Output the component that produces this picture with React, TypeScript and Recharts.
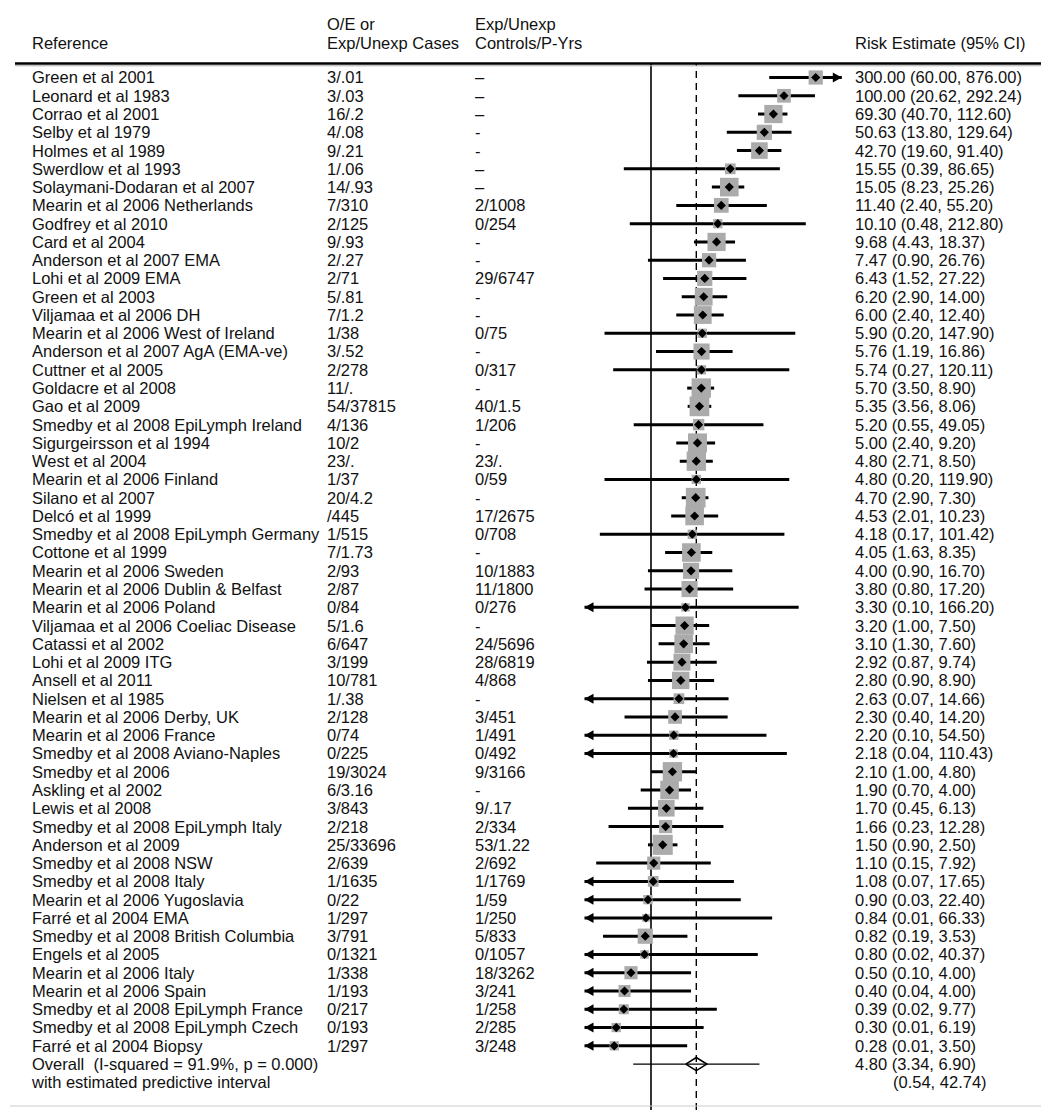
import React from 'react';
import { ComposedChart, XAxis, YAxis, Scatter, ErrorBar, ReferenceLine } from 'recharts';

// Study-level inputs of the meta-analysis, one entry per row (top to bottom)
const studies = [
  'Green et al 2001', 'Leonard et al 1983', 'Corrao et al 2001', 'Selby et al 1979', 'Holmes et al 1989',
  'Swerdlow et al 1993', 'Solaymani-Dodaran et al 2007', 'Mearin et al 2006 Netherlands', 'Godfrey et al 2010',
  'Card et al 2004', 'Anderson et al 2007 EMA', 'Lohi et al 2009 EMA', 'Green et al 2003', 'Viljamaa et al 2006 DH',
  'Mearin et al 2006 West of Ireland', 'Anderson et al 2007 AgA (EMA-ve)', 'Cuttner et al 2005', 'Goldacre et al 2008',
  'Gao et al 2009', 'Smedby et al 2008 EpiLymph Ireland', 'Sigurgeirsson et al 1994', 'West et al 2004',
  'Mearin et al 2006 Finland', 'Silano et al 2007', 'Delcó et al 1999', 'Smedby et al 2008 EpiLymph Germany',
  'Cottone et al 1999', 'Mearin et al 2006 Sweden', 'Mearin et al 2006 Dublin & Belfast', 'Mearin et al 2006 Poland',
  'Viljamaa et al 2006 Coeliac Disease', 'Catassi et al 2002', 'Lohi et al 2009 ITG', 'Ansell et al 2011',
  'Nielsen et al 1985', 'Mearin et al 2006 Derby, UK', 'Mearin et al 2006 France', 'Smedby et al 2008 Aviano-Naples',
  'Smedby et al 2006', 'Askling et al 2002', 'Lewis et al 2008', 'Smedby et al 2008 EpiLymph Italy',
  'Anderson et al 2009', 'Smedby et al 2008 NSW', 'Smedby et al 2008 Italy', 'Mearin et al 2006 Yugoslavia',
  'Farré et al 2004 EMA', 'Smedby et al 2008 British Columbia', 'Engels et al 2005', 'Mearin et al 2006 Italy',
  'Mearin et al 2006 Spain', 'Smedby et al 2008 EpiLymph France', 'Smedby et al 2008 EpiLymph Czech',
  'Farré et al 2004 Biopsy',
];

const cases = [
  '3/.01', '3/.03', '16/.2', '4/.08', '9/.21', '1/.06', '14/.93', '7/310', '2/125', '9/.93', '2/.27', '2/71',
  '5/.81', '7/1.2', '1/38', '3/.52', '2/278', '11/.', '54/37815', '4/136', '10/2', '23/.', '1/37', '20/4.2',
  '/445', '1/515', '7/1.73', '2/93', '2/87', '0/84', '5/1.6', '6/647', '3/199', '10/781', '1/.38', '2/128',
  '0/74', '0/225', '19/3024', '6/3.16', '3/843', '2/218', '25/33696', '2/639', '1/1635', '0/22', '1/297',
  '3/791', '0/1321', '1/338', '1/193', '0/217', '0/193', '1/297',
];

const controls = [
  '–', '–', '–', '-', '-', '–', '–', '2/1008', '0/254', '-', '-', '29/6747', '-', '-', '0/75', '-', '0/317',
  '-', '40/1.5', '1/206', '-', '23/.', '0/59', '-', '17/2675', '0/708', '-', '10/1883', '11/1800', '0/276',
  '-', '24/5696', '28/6819', '4/868', '-', '3/451', '1/491', '0/492', '9/3166', '-', '9/.17', '2/334',
  '53/1.22', '2/692', '1/1769', '1/59', '1/250', '5/833', '0/1057', '18/3262', '3/241', '1/258', '2/285',
  '3/248',
];

const estimates = [
  300.0, 100.0, 69.3, 50.63, 42.7, 15.55, 15.05, 11.4, 10.1, 9.68, 7.47, 6.43, 6.2, 6.0, 5.9, 5.76, 5.74,
  5.7, 5.35, 5.2, 5.0, 4.8, 4.8, 4.7, 4.53, 4.18, 4.05, 4.0, 3.8, 3.3, 3.2, 3.1, 2.92, 2.8, 2.63, 2.3, 2.2,
  2.18, 2.1, 1.9, 1.7, 1.66, 1.5, 1.1, 1.08, 0.9, 0.84, 0.82, 0.8, 0.5, 0.4, 0.39, 0.3, 0.28,
];

const lowerCI = [
  60.0, 20.62, 40.7, 13.8, 19.6, 0.39, 8.23, 2.4, 0.48, 4.43, 0.9, 1.52, 2.9, 2.4, 0.2, 1.19, 0.27, 3.5,
  3.56, 0.55, 2.4, 2.71, 0.2, 2.9, 2.01, 0.17, 1.63, 0.9, 0.8, 0.1, 1.0, 1.3, 0.87, 0.9, 0.07, 0.4, 0.1,
  0.04, 1.0, 0.7, 0.45, 0.23, 0.9, 0.15, 0.07, 0.03, 0.01, 0.19, 0.02, 0.1, 0.04, 0.02, 0.01, 0.01,
];

const upperCI = [
  876.0, 292.24, 112.6, 129.64, 91.4, 86.65, 25.26, 55.2, 212.8, 18.37, 26.76, 27.22, 14.0, 12.4, 147.9,
  16.86, 120.11, 8.9, 8.06, 49.05, 9.2, 8.5, 119.9, 7.3, 10.23, 101.42, 8.35, 16.7, 17.2, 166.2, 7.5, 7.6,
  9.74, 8.9, 14.66, 14.2, 54.5, 110.43, 4.8, 4.0, 6.13, 12.28, 2.5, 7.92, 17.65, 22.4, 66.33, 3.53, 40.37,
  4.0, 4.0, 9.77, 6.19, 3.5,
];

// Random-effects weights (%) that size the grey boxes
const weights = [
  1.4, 1.3, 2.3, 1.6, 1.9, 0.8, 2.4, 1.5, 0.6, 2.3, 1.4, 1.6, 2.2, 2.2, 0.6, 1.8, 0.6, 2.6, 2.7, 0.9, 2.5,
  2.6, 0.6, 2.7, 2.4, 0.6, 2.4, 1.8, 1.8, 0.5, 2.3, 2.4, 2.0, 2.1, 0.8, 1.3, 0.6, 0.5, 2.6, 2.4, 1.9, 1.2,
  2.8, 1.2, 0.8, 0.6, 0.4, 1.6, 0.5, 1.2, 1.0, 0.7, 0.6, 0.6,
];

const overallEstimate = 4.8;
const overallLower = 3.34;
const overallUpper = 6.9;
const predictiveLower = 0.54;
const predictiveUpper = 42.74;
const overallLabel = 'Overall  (I-squared = 91.9%, p = 0.000)';
const predictiveLabel = 'with estimated predictive interval';

// Horizontal (log) axis limits; intervals beyond them end in arrows
const AXIS_MIN = 0.1;
const AXIS_MAX = 740;

const W = 1041;
const H = 1110;
const FONT = '"Liberation Sans", Arial, Helvetica, sans-serif';
const FS = 16.5;
const COL_REF = 32;
const COL_CASES = 327;
const COL_CTRL = 475;
const COL_EST = 855;
const COL_PRED = 893;

const nStudies = studies.length;
const overallRow = nStudies;
const rowTicks = Array.from({ length: nStudies + 2 }, (_, i) => i);

const fmt = (v: number) => v.toFixed(2);

const studyRows = studies.map((_, i) => {
  const lo = Math.max(lowerCI[i], AXIS_MIN);
  const hi = Math.min(upperCI[i], AXIS_MAX);
  return { row: i, x: estimates[i], err: [estimates[i] - lo, hi - estimates[i]], w: weights[i] };
});

const leftArrows = studies
  .map((_, i) => ({ row: i, x: AXIS_MIN, clipped: lowerCI[i] <= AXIS_MIN }))
  .filter((d) => d.clipped);
const rightArrows = studies
  .map((_, i) => ({ row: i, x: AXIS_MAX, clipped: upperCI[i] > AXIS_MAX }))
  .filter((d) => d.clipped);

const diamondH = 0.36;
const overallDiamond = [
  { row: overallRow, x: overallLower },
  { row: overallRow - diamondH, x: overallEstimate },
  { row: overallRow, x: overallUpper },
  { row: overallRow + diamondH, x: overallEstimate },
  { row: overallRow, x: overallLower },
];
const predictiveLine = [
  { row: overallRow, x: predictiveLower },
  { row: overallRow, x: predictiveUpper },
];

const textStyle: React.CSSProperties = { whiteSpace: 'pre' };

const LeftTick = (props: any) => {
  const { y, payload } = props;
  const i = payload.value as number;
  let cols: string[];
  if (i < nStudies) cols = [studies[i], cases[i], controls[i]];
  else if (i === overallRow) cols = [overallLabel, '', ''];
  else cols = [predictiveLabel, '', ''];
  const common = { y, dy: '0.36em', fontFamily: FONT, fontSize: FS, fill: '#111', style: textStyle };
  return (
    <g>
      <text x={COL_REF} {...common}>{cols[0]}</text>
      {cols[1] ? <text x={COL_CASES} {...common}>{cols[1]}</text> : null}
      {cols[2] ? <text x={COL_CTRL} {...common}>{cols[2]}</text> : null}
    </g>
  );
};

const RightTick = (props: any) => {
  const { y, payload } = props;
  const i = payload.value as number;
  let label = '';
  let x = COL_EST;
  if (i < nStudies) label = `${fmt(estimates[i])} (${fmt(lowerCI[i])}, ${fmt(upperCI[i])})`;
  else if (i === overallRow) label = `${fmt(overallEstimate)} (${fmt(overallLower)}, ${fmt(overallUpper)})`;
  else {
    label = `(${fmt(predictiveLower)}, ${fmt(predictiveUpper)})`;
    x = COL_PRED;
  }
  return (
    <text x={x} y={y} dy="0.36em" fontFamily={FONT} fontSize={FS} fill="#111" style={textStyle}>
      {label}
    </text>
  );
};

const WeightBox = (props: any) => {
  const { cx, cy, payload } = props;
  if (cx == null || cy == null) return null;
  const s = 12 * Math.sqrt(payload.w);
  return <rect x={cx - s / 2} y={cy - s / 2} width={s} height={s} fill="#ababab" />;
};

const PointMark = (props: any) => {
  const { cx, cy } = props;
  if (cx == null || cy == null) return null;
  const r = 4.6;
  return <polygon points={`${cx - r},${cy} ${cx},${cy - r} ${cx + r},${cy} ${cx},${cy + r}`} fill="#000" />;
};

const LeftArrow = (props: any) => {
  const { cx, cy } = props;
  if (cx == null || cy == null) return null;
  return <polygon points={`${cx},${cy} ${cx + 9},${cy - 5} ${cx + 9},${cy + 5}`} fill="#000" />;
};

const RightArrow = (props: any) => {
  const { cx, cy } = props;
  if (cx == null || cy == null) return null;
  return <polygon points={`${cx},${cy} ${cx - 9},${cy - 5} ${cx - 9},${cy + 5}`} fill="#000" />;
};

const NoShape = () => null;

// Vertical extent of the plot, in row units (row 0 at the top)
const PLOT_TOP = 64;
const ROW_STEP = 18.27;
const FIRST_ROW_Y = 77.5;
const Y_MIN = -(FIRST_ROW_Y - PLOT_TOP) / ROW_STEP;
const Y_MAX = (H - FIRST_ROW_Y) / ROW_STEP;

const LEFT_W = 584.5;
const RIGHT_W = 199.2;

export default function App() {
  return (
    <div style={{ position: 'absolute', left: 0, top: 0, width: W, height: H, background: '#fff' }}>
      <ComposedChart
        width={W}
        height={H}
        layout="vertical"
        margin={{ top: PLOT_TOP, right: 0, bottom: 0, left: 0 }}
      >
        <XAxis
          type="number"
          dataKey="x"
          scale="log"
          domain={[AXIS_MIN, AXIS_MAX]}
          allowDataOverflow
          hide
        />
        <YAxis
          yAxisId="rows"
          type="number"
          dataKey="row"
          domain={[Y_MIN, Y_MAX]}
          allowDataOverflow
          ticks={rowTicks}
          interval={0}
          width={LEFT_W}
          axisLine={false}
          tickLine={false}
          tick={<LeftTick />}
        />
        <YAxis
          yAxisId="est"
          orientation="right"
          type="number"
          dataKey="row"
          domain={[Y_MIN, Y_MAX]}
          allowDataOverflow
          ticks={rowTicks}
          interval={0}
          width={RIGHT_W}
          axisLine={false}
          tickLine={false}
          tick={<RightTick />}
        />
        <ReferenceLine yAxisId="rows" x={1} stroke="#000" strokeWidth={1.6} />
        <ReferenceLine yAxisId="rows" x={overallEstimate} stroke="#000" strokeWidth={1.4} strokeDasharray="7 5" />
        <Scatter yAxisId="rows" data={studyRows} shape={<WeightBox />} isAnimationActive={false} />
        <Scatter yAxisId="rows" data={studyRows} shape={<NoShape />} isAnimationActive={false}>
          <ErrorBar dataKey="err" direction="x" width={0} stroke="#000" strokeWidth={3} />
        </Scatter>
        <Scatter yAxisId="rows" data={studyRows} shape={<PointMark />} isAnimationActive={false} />
        <Scatter yAxisId="rows" data={leftArrows} shape={<LeftArrow />} isAnimationActive={false} />
        <Scatter yAxisId="rows" data={rightArrows} shape={<RightArrow />} isAnimationActive={false} />
        <Scatter
          yAxisId="rows"
          data={predictiveLine}
          shape={<NoShape />}
          line={{ stroke: '#000', strokeWidth: 1.4 }}
          isAnimationActive={false}
        />
        <Scatter
          yAxisId="rows"
          data={overallDiamond}
          shape={<NoShape />}
          line={{ stroke: '#000', strokeWidth: 1.6 }}
          isAnimationActive={false}
        />
      </ComposedChart>
      <svg
        width={W}
        height={H}
        style={{ position: 'absolute', left: 0, top: 0, pointerEvents: 'none' }}
      >
        <g fontFamily={FONT} fontSize={FS} fill="#111">
          <text x={COL_REF} y={43} dy="0.36em">Reference</text>
          <text x={COL_CASES} y={24.5} dy="0.36em">O/E or</text>
          <text x={COL_CASES} y={43} dy="0.36em">Exp/Unexp Cases</text>
          <text x={COL_CTRL} y={24.5} dy="0.36em">Exp/Unexp</text>
          <text x={COL_CTRL} y={43} dy="0.36em">Controls/P-Yrs</text>
          <text x={COL_EST} y={43} dy="0.36em">Risk Estimate (95% CI)</text>
        </g>
        <line x1={15} x2={W} y1={63.5} y2={63.5} stroke="#000" strokeWidth={2.5} />
        <line x1={15} x2={W} y1={65.8} y2={65.8} stroke="#aaa" strokeWidth={1} />
        <line x1={10} x2={W} y1={1106} y2={1106} stroke="#ccc" strokeWidth={1.2} />
      </svg>
    </div>
  );
}
